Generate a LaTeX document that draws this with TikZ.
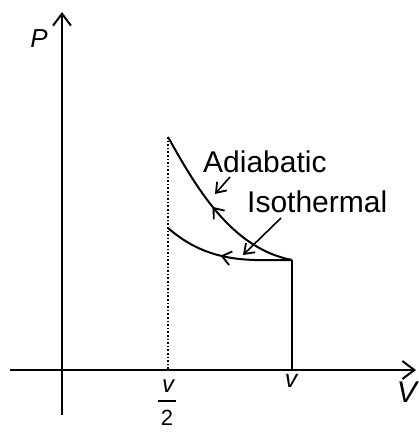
\documentclass[tikz,border=0pt]{standalone}
\usepackage{fontspec}
\setmainfont{Liberation Sans}
\usetikzlibrary{arrows.meta,decorations.markings}
\begin{document}
\begin{tikzpicture}[x=1pt,y=-1pt,
  axis/.style={line width=2.2pt,-{Straight Barb[length=12pt,width=18pt,line width=2pt]}},
  curve/.style={line width=2pt},
  barb/.style={-{Straight Barb[length=9pt,width=13pt,line width=1.8pt]}},
  lbl/.style={inner sep=0pt,font=\fontsize{30}{36}\selectfont},
  axlbl/.style={inner sep=0pt,font=\itshape}
]
\useasboundingbox (0,0) rectangle (419,434);
% coordinates
\coordinate (ybot) at (62,415);
\coordinate (ytop) at (62,12);
\coordinate (xleft) at (10,370);
\coordinate (xright) at (416,370);
\coordinate (A) at (168,137);
\coordinate (C) at (168,228);
\coordinate (J) at (255,260);
\coordinate (B) at (292,260);
\coordinate (D) at (292,370);
\coordinate (E) at (168,370);
% axes
\draw[axis] (ybot) -- (ytop);
\draw[axis] (xleft) -- (xright);
% dotted line
\draw[line width=1.6pt,dotted] (A) -- (E);
% adiabatic
\draw[curve,postaction={decorate},decoration={markings,
  mark=at position 83pt with {\arrowreversed{Straight Barb[length=9pt,width=14pt,line width=1.8pt]}}}]
  (A) .. controls (195,185) and (230,248) .. (B);
% isothermal
\draw[curve,postaction={decorate},decoration={markings,
  mark=at position 60pt with {\arrowreversed{Straight Barb[length=9pt,width=14pt,line width=1.8pt]}}}]
  (C) .. controls (190,247) and (215,259) .. (J) -- (B);
% vertical at v
\draw[line width=1.8pt] (B) -- (D);
% labels
\node[axlbl,font=\itshape\fontsize{26}{30}\selectfont] (P) at (39,39) {P};
\node[axlbl,font=\itshape\fontsize{30}{34}\selectfont] (Vl) at (407,392) {V};
\node[axlbl,font=\itshape\fontsize{25}{30}\selectfont] (vl) at (291,381) {v};
\node[axlbl,font=\itshape\fontsize{24}{28}\selectfont] (vnum) at (168,386) {v};
\coordinate (barL) at (158,401);
\coordinate (barR) at (176,401);
\draw[line width=1.8pt] (barL) -- (barR);
\node[axlbl,font=\fontsize{22}{26}\selectfont] (vden) at (167,418) {2};
\node[lbl,anchor=base west] (adi) at (203,172) {Adiabatic};
\node[lbl,anchor=base west] (iso) at (247,212) {Isothermal};
% label arrows
\coordinate (a1) at (230,177);
\coordinate (a2) at (215,194);
\coordinate (i1) at (281,218);
\coordinate (i2) at (243,255);
\draw[line width=1.6pt,barb] (a1) -- (a2);
\draw[line width=1.6pt,barb] (i1) -- (i2);
\end{tikzpicture}
\end{document}
